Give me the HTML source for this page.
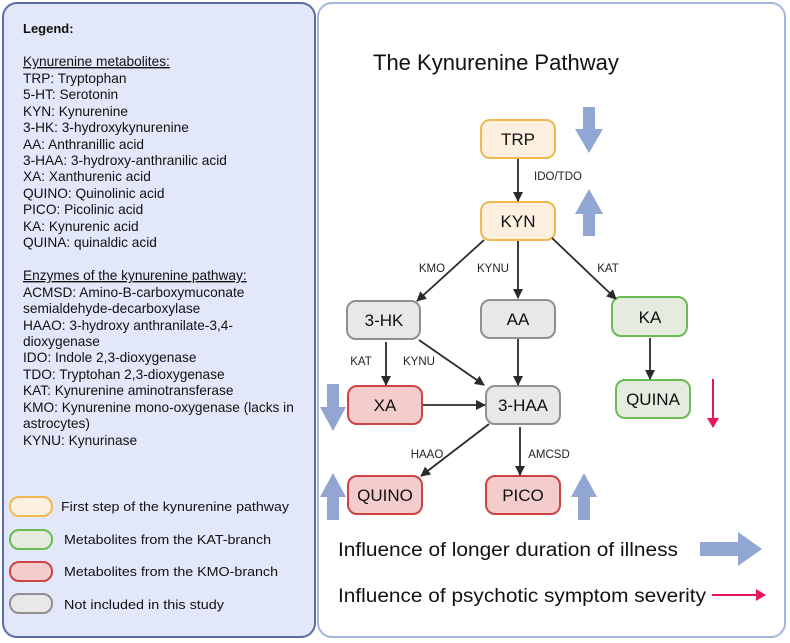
<!DOCTYPE html>
<html><head><meta charset="utf-8"><style>
html,body{margin:0;padding:0;background:#fff;width:790px;height:643px;overflow:hidden}
svg{display:block;font-family:"Liberation Sans",sans-serif}
</style></head><body>
<svg width="790" height="643" viewBox="0 0 790 643" xmlns="http://www.w3.org/2000/svg">
<defs>
<marker id="ah" markerWidth="10" markerHeight="10" refX="9" refY="5" orient="auto" markerUnits="userSpaceOnUse"><path d="M0,0 L10,5 L0,10 z" fill="#2b2b2b"/></marker>
</defs>
<rect x="3" y="3" width="312" height="634" rx="14" fill="#e3e7fa" stroke="#5a6ea6" stroke-width="2"/>
<rect x="318" y="3" width="467" height="634" rx="14" fill="#fff" stroke="#a3b5e0" stroke-width="2"/>
<g font-size="13.7" fill="#111">
<text x="23" y="33" font-weight="bold" font-size="13">Legend:</text>
<text x="23" y="66" text-decoration="underline">Kynurenine metabolites:</text>
<text x="23" y="83">TRP: Tryptophan</text>
<text x="23" y="99">5-HT: Serotonin</text>
<text x="23" y="116">KYN: Kynurenine</text>
<text x="23" y="132">3-HK: 3-hydroxykynurenine</text>
<text x="23" y="149">AA: Anthranillic acid</text>
<text x="23" y="165">3-HAA: 3-hydroxy-anthranilic acid</text>
<text x="23" y="181">XA: Xanthurenic acid</text>
<text x="23" y="198">QUINO: Quinolinic acid</text>
<text x="23" y="214">PICO: Picolinic acid</text>
<text x="23" y="231">KA: Kynurenic acid</text>
<text x="23" y="247">QUINA: quinaldic acid</text>
<text x="23" y="280" text-decoration="underline">Enzymes of the kynurenine pathway:</text>
<text x="23" y="297">ACMSD: Amino-B-carboxymuconate</text>
<text x="23" y="313">semialdehyde-decarboxylase</text>
<text x="23" y="330">HAAO: 3-hydroxy anthranilate-3,4-</text>
<text x="23" y="346">dioxygenase</text>
<text x="23" y="362">IDO: Indole 2,3-dioxygenase</text>
<text x="23" y="379">TDO: Tryptohan 2,3-dioxygenase</text>
<text x="23" y="395">KAT: Kynurenine aminotransferase</text>
<text x="23" y="412">KMO: Kynurenine mono-oxygenase (lacks in</text>
<text x="23" y="428">astrocytes)</text>
<text x="23" y="445">KYNU: Kynurinase</text>
</g>
<g stroke-width="2">
<rect x="10" y="497" width="42" height="19" rx="9" fill="#fdf0e1" stroke="#f2b84e"/>
<rect x="10" y="530" width="42" height="19" rx="9" fill="#e5ecdf" stroke="#6abc54"/>
<rect x="10" y="562" width="42" height="19" rx="9" fill="#f4cccc" stroke="#cc4444"/>
<rect x="10" y="594" width="42" height="19" rx="9" fill="#e8e8e8" stroke="#909090"/>
</g>
<g font-size="13" fill="#111">
<text x="61" y="511" textLength="228" lengthAdjust="spacingAndGlyphs">First step of the kynurenine pathway</text>
<text x="64" y="544" textLength="207" lengthAdjust="spacingAndGlyphs">Metabolites from the KAT-branch</text>
<text x="64" y="576" textLength="214" lengthAdjust="spacingAndGlyphs">Metabolites from the KMO-branch</text>
<text x="64" y="609" textLength="160" lengthAdjust="spacingAndGlyphs">Not included in this study</text>
</g>
<text x="373" y="70" font-size="22" fill="#111">The Kynurenine Pathway</text>
<g stroke-width="2">
<rect x="481" y="120" width="74" height="38" rx="9" fill="#fdf0e1" stroke="#f2b84e"/>
<rect x="481" y="202" width="74" height="38" rx="9" fill="#fdf0e1" stroke="#f2b84e"/>
<rect x="347" y="301" width="73" height="38" rx="9" fill="#e8e8e8" stroke="#909090"/>
<rect x="481" y="300" width="74" height="38" rx="9" fill="#e8e8e8" stroke="#909090"/>
<rect x="612" y="297" width="75" height="39" rx="9" fill="#e5ecdf" stroke="#6abc54"/>
<rect x="348" y="386" width="74" height="38" rx="9" fill="#f4cccc" stroke="#cc4444"/>
<rect x="486" y="386" width="74" height="38" rx="9" fill="#e8e8e8" stroke="#909090"/>
<rect x="348" y="476" width="74" height="38" rx="9" fill="#f4cccc" stroke="#cc4444"/>
<rect x="486" y="476" width="74" height="38" rx="9" fill="#f4cccc" stroke="#cc4444"/>
<rect x="616" y="380" width="74" height="38" rx="9" fill="#e5ecdf" stroke="#6abc54"/>
</g>
<g font-size="17" fill="#111" text-anchor="middle">
<text x="518" y="145">TRP</text>
<text x="518" y="227">KYN</text>
<text x="384" y="326">3-HK</text>
<text x="518" y="325">AA</text>
<text x="650" y="323">KA</text>
<text x="385" y="411">XA</text>
<text x="523" y="411">3-HAA</text>
<text x="385" y="501">QUINO</text>
<text x="523" y="501">PICO</text>
<text x="653" y="405">QUINA</text>
</g>
<g stroke="#2b2b2b" stroke-width="1.8" marker-end="url(#ah)">
<line x1="518" y1="159" x2="518" y2="201"/>
<line x1="484" y1="240" x2="417" y2="301"/>
<line x1="518" y1="241" x2="518" y2="298"/>
<line x1="552" y1="238" x2="616" y2="299"/>
<line x1="386" y1="342" x2="386" y2="385"/>
<line x1="419" y1="340" x2="484" y2="385"/>
<line x1="518" y1="339" x2="518" y2="385"/>
<line x1="423" y1="405" x2="485" y2="405"/>
<line x1="489" y1="424" x2="421" y2="476"/>
<line x1="520" y1="427" x2="520" y2="475"/>
<line x1="650" y1="338" x2="650" y2="379"/>
</g>
<g font-size="11.5" fill="#222" text-anchor="middle">
<text x="558" y="180">IDO/TDO</text>
<text x="432" y="272">KMO</text>
<text x="493" y="272">KYNU</text>
<text x="608" y="272">KAT</text>
<text x="361" y="365">KAT</text>
<text x="419" y="365">KYNU</text>
<text x="427" y="458">HAAO</text>
<text x="549" y="458">AMCSD</text>
</g>
<g fill="#91a6d3">
<path d="M583,107 h12 v22 h8 l-14,24 l-14,-24 h8 z"/>
<path d="M583,236 h12 v-22 h8 l-14,-25 l-14,25 h8 z"/>
<path d="M327,384 h12 v23 h7 l-13,24 l-13,-24 h7 z"/>
<path d="M327,520 h12 v-23 h7 l-13,-24 l-13,24 h7 z"/>
<path d="M578,520 h12 v-23 h7 l-13,-24 l-13,24 h7 z"/>
<path d="M700,542 h38 v-10 l24,17 l-24,17 v-10 h-38 z"/>
</g>
<g stroke="#e8175d" stroke-width="2" fill="#e8175d">
<line x1="713" y1="379" x2="713" y2="420"/>
<path d="M707,418 l6,10 l6,-10 z" stroke="none"/>
<line x1="712" y1="595" x2="758" y2="595"/>
<path d="M756,589 l10,6 l-10,6 z" stroke="none"/>
</g>
<g font-size="19" fill="#111">
<text x="338" y="556" textLength="340" lengthAdjust="spacingAndGlyphs">Influence of longer duration of illness</text>
<text x="338" y="602" textLength="368" lengthAdjust="spacingAndGlyphs">Influence of psychotic symptom severity</text>
</g>
</svg>
</body></html>
